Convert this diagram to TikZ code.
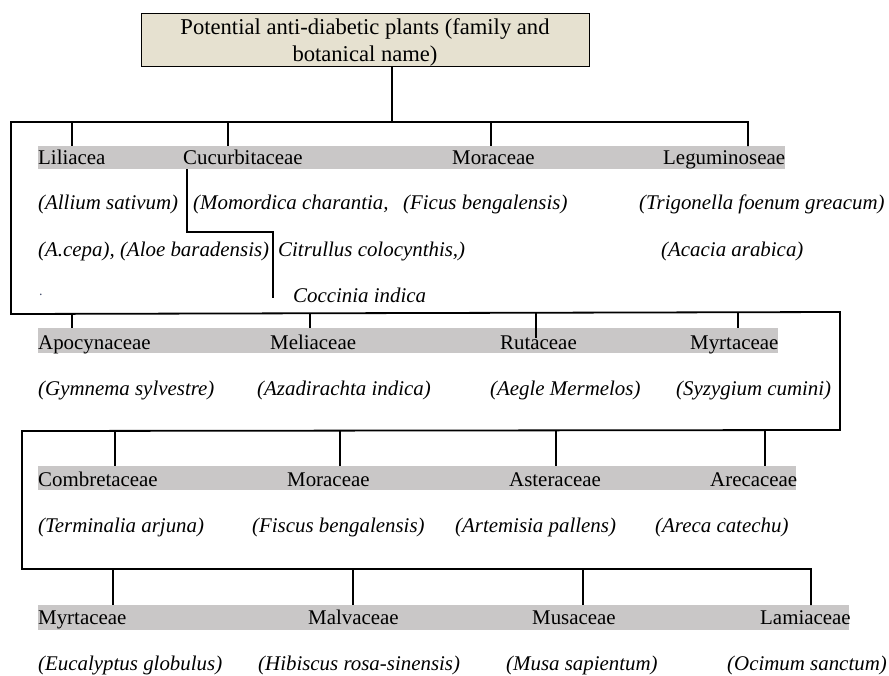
\documentclass[tikz,border=0pt]{standalone}
\usepackage{fontspec}
\setmainfont{Liberation Serif}
\definecolor{boxbeige}{RGB}{230,225,208}
\definecolor{bargray}{RGB}{201,199,199}
\definecolor{dotblue}{RGB}{70,80,110}
\begin{document}
\begin{tikzpicture}[x=1pt,y=-1pt,
  fam/.style={anchor=base west, inner sep=0pt, font=\fontsize{20.9}{23}\selectfont},
  spc/.style={anchor=base west, inner sep=0pt, font=\fontsize{20.9}{23}\selectfont\itshape},
  bar/.style={fill=bargray, draw=none, inner sep=0pt, anchor=north west},
  conn/.style={line width=1.8pt, black},
  topbox/.style={draw=black, line width=1.3pt, fill=boxbeige, inner sep=0pt, anchor=north west, minimum width=448pt, minimum height=53pt},
  toptext/.style={anchor=base, inner sep=0pt, font=\fontsize{22.6}{25}\selectfont}]
\useasboundingbox (0,0) rectangle (889,675);

% top box
\node[topbox] (top) at (141,13) {};
\node[toptext] (t1) at (365,34) {Potential anti-diabetic plants (family and};
\node[toptext] (t2) at (365,61) {botanical name)};

% bars
\node[bar, minimum width=747pt, minimum height=23pt] (bar1) at (38,146) {};
\node[bar, minimum width=740pt, minimum height=25pt] (bar2) at (38,328) {};
\node[bar, minimum width=758pt, minimum height=24pt] (bar3) at (38,466) {};
\node[bar, minimum width=811pt, minimum height=25pt] (bar4) at (38,605) {};

% coordinates
\coordinate (stemtop) at (392,66);
\coordinate (j0) at (392,122);
\coordinate (aL) at (11,122);
\coordinate (aR) at (748,122);
\coordinate (bL) at (11,314);
\coordinate (bR) at (840,312);
\coordinate (cR) at (840,430);
\coordinate (cL) at (22,431);
\coordinate (dL) at (22,569);
\coordinate (dR) at (811,569);

% row 1 texts
\node[fam] (f11) at (38,164) {Liliacea};
\node[fam] (f12) at (183,164) {Cucurbitaceae};
\node[fam] (f13) at (452,164) {Moraceae};
\node[fam] (f14) at (663,164) {Leguminoseae};
\node[spc] (s11) at (38,209) {(Allium sativum)};
\node[spc] (s12) at (193,209) {(Momordica charantia,};
\node[spc] (s13) at (403,209) {(Ficus bengalensis)};
\node[spc] (s14) at (639,209) {(Trigonella foenum greacum)};
\node[spc] (s15) at (38,256) {(A.cepa), (Aloe baradensis)};
\node[spc] (s16) at (278,256) {Citrullus colocynthis,)};
\node[spc] (s17) at (661,256) {(Acacia arabica)};
\node[anchor=base west, inner sep=0pt, font=\fontsize{14}{16}\selectfont, text=dotblue] (dot) at (39,295) {.};
\node[spc] (s18) at (293,302) {Coccinia indica};

% row 2 texts
\node[fam] (f21) at (38,349) {Apocynaceae};
\node[fam] (f22) at (270,349) {Meliaceae};
\node[fam] (f23) at (500,349) {Rutaceae};
\node[fam] (f24) at (690,349) {Myrtaceae};
\node[spc] (s21) at (38,395) {(Gymnema sylvestre)};
\node[spc] (s22) at (257,395) {(Azadirachta indica)};
\node[spc] (s23) at (490,395) {(Aegle Mermelos)};
\node[spc] (s24) at (676,395) {(Syzygium cumini)};

% row 3 texts
\node[fam] (f31) at (38,486) {Combretaceae};
\node[fam] (f32) at (287,486) {Moraceae};
\node[fam] (f33) at (509,486) {Asteraceae};
\node[fam] (f34) at (710,486) {Arecaceae};
\node[spc] (s31) at (38,532) {(Terminalia arjuna)};
\node[spc] (s32) at (252,532) {(Fiscus bengalensis)};
\node[spc] (s33) at (455,532) {(Artemisia pallens)};
\node[spc] (s34) at (655,532) {(Areca catechu)};

% row 4 texts
\node[fam] (f41) at (38,624) {Myrtaceae};
\node[fam] (f42) at (308,624) {Malvaceae};
\node[fam] (f43) at (532,624) {Musaceae};
\node[fam] (f44) at (760,624) {Lamiaceae};
\node[spc] (s41) at (38,670) {(Eucalyptus globulus)};
\node[spc] (s42) at (258,670) {(Hibiscus rosa-sinensis)};
\node[spc] (s43) at (506,670) {(Musa sapientum)};
\node[spc] (s44) at (727,670) {(Ocimum sanctum)};

% main connector
\draw[conn] (stemtop) -- (j0);
\draw[conn, line join=miter] (aR |- bar1.north) -- (aR) -- (aL) -- (bL) -- (bR) -- (cR) -- (cL) -- (dL) -- (dR) -- (dR |- bar4.north);

% row 1 drops
\draw[conn] (72,122) -- (72,146);
\draw[conn] (228,122) -- (228,146);
\draw[conn] (491,122) -- (491,146);
% odd link under Cucurbitaceae
\coordinate (k1) at (187,169);
\coordinate (k2) at (187,232);
\coordinate (k3) at (273,232);
\coordinate (k4) at (273,298);
\draw[conn] (k1) -- (k2) -- (k3) -- (k4);

% row 2 drops
\draw[conn] (72,313) -- (72,328);
\draw[conn] (310,313) -- (310,328);
\draw[conn] (536,312) -- (536,338);
\draw[conn] (738,312) -- (738,328);

% row 3 drops
\draw[conn] (115,431) -- (115,466);
\draw[conn] (340,431) -- (340,466);
\draw[conn] (556,430) -- (556,466);
\draw[conn] (765,430) -- (765,466);

% row 4 drops
\draw[conn] (113,569) -- (113,605);
\draw[conn] (353,569) -- (353,605);
\draw[conn] (583,569) -- (583,605);
\end{tikzpicture}
\end{document}
